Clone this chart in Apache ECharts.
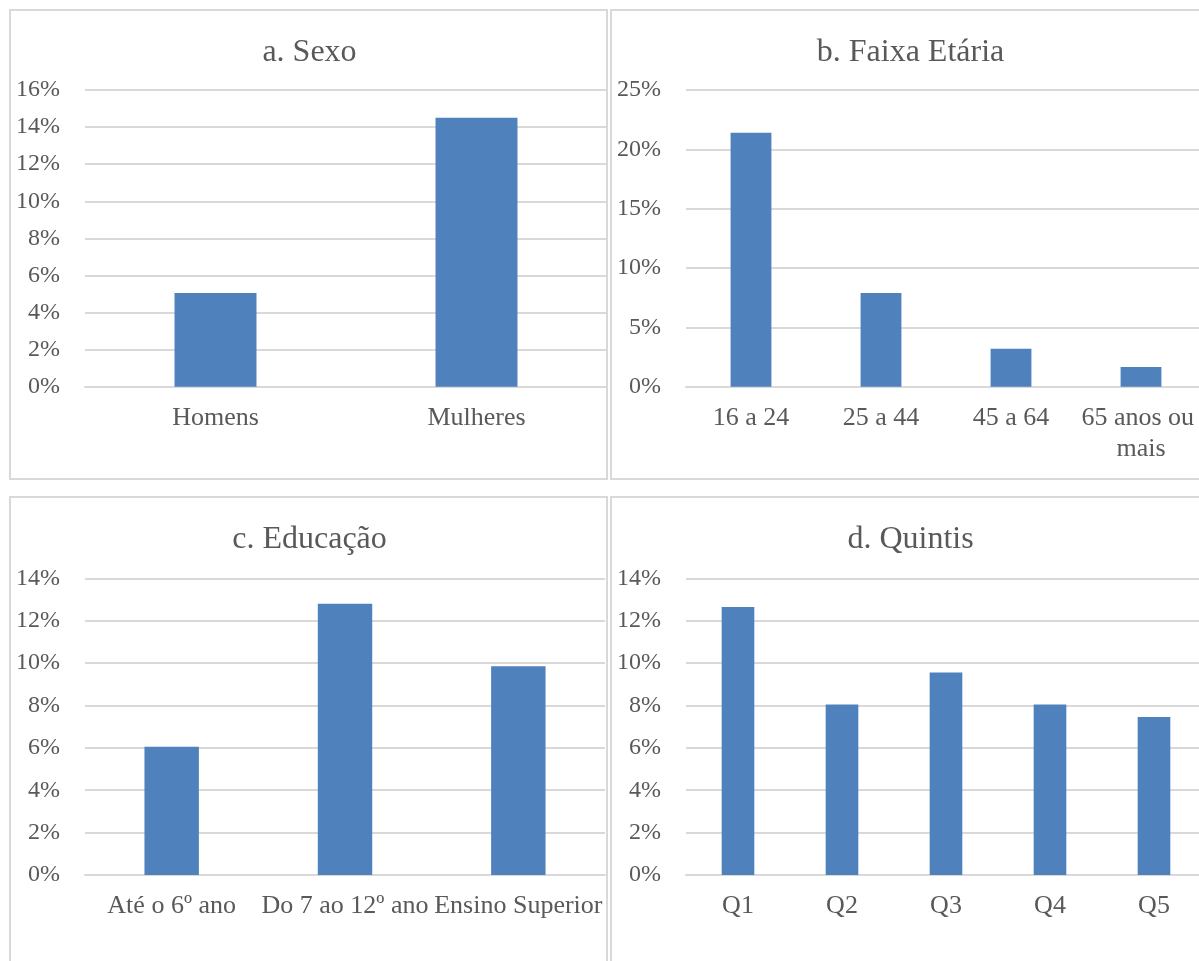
<!DOCTYPE html>
<html>
<head>
<meta charset="utf-8">
<script src="https://cdn.jsdelivr.net/npm/echarts@6/dist/echarts.min.js"></script>
<style>
html,body{margin:0;padding:0;background:#fff;}
#c{width:1199px;height:961px;}
</style>
</head>
<body>
<div id="c"></div>
<script>
// ---- data ----
const titles = ['a. Sexo', 'b. Faixa Etária', 'c. Educação', 'd. Quintis'];
const sexoCats = ['Homens', 'Mulheres'];
const sexoVals = [5.05, 14.5];
const faixaCats = ['16 a 24', '25 a 44', '45 a 64', '65 anos ou mais'];
const faixaVals = [21.4, 7.9, 3.2, 1.65];
const eduCats = ['Até o 6º ano', 'Do 7 ao 12º ano', 'Ensino Superior'];
const eduVals = [6.05, 12.8, 9.85];
const quintCats = ['Q1', 'Q2', 'Q3', 'Q4', 'Q5'];
const quintVals = [12.65, 8.05, 9.55, 8.05, 7.45];
const yMax = [16, 25, 14, 14];
const yStep = [2, 5, 2, 2];

// ---- layout ----
const FONT = "'Liberation Serif', 'Times New Roman', serif";
const TXT = '#595959';
const GRIDC = '#d9d9d9';
const BAR = '#4F81BD';
const panels = [
  {bx: 10, by: 10, gl: 85, gt: 90, tx: 304.5, ty: 32},
  {bx: 611, by: 10, gl: 686, gt: 90, tx: 905.5, ty: 32},
  {bx: 10, by: 497, gl: 85, gt: 578.3, tx: 304.5, ty: 519},
  {bx: 611, by: 497, gl: 686, gt: 578.3, tx: 905.5, ty: 519}
];
const cats = [sexoCats, faixaCats, eduCats, quintCats];
const vals = [sexoVals, faixaVals, eduVals, quintVals];

const option = {
  animation: false,
  backgroundColor: '#fff',
  title: panels.map((p, i) => ({
    text: titles[i],
    left: p.tx,
    top: p.ty,
    textAlign: 'center',
    textStyle: {fontFamily: FONT, fontSize: 32, fontWeight: 'normal', color: TXT}
  })),
  graphic: panels.map(p => ({
    type: 'rect',
    shape: {x: p.bx, y: p.by, width: 597, height: 469},
    style: {fill: 'none', stroke: GRIDC, lineWidth: 2},
    silent: true
  })),
  grid: panels.map((p, i) => ({
    left: p.gl, top: p.gt, width: i === 0 ? 522 : 520, height: 296.7,
    containLabel: false, outerBoundsMode: 'none'
  })),
  xAxis: panels.map((p, i) => ({
    type: 'category', gridIndex: i, data: cats[i],
    axisLine: {show: true, lineStyle: {color: GRIDC, width: 2}},
    axisTick: {show: false},
    axisLabel: Object.assign({
      interval: 0, color: TXT, fontFamily: FONT, fontSize: 26, margin: 16, lineHeight: 31
    }, i === 1 ? {width: 128, overflow: 'break'} : {})
  })),
  yAxis: panels.map((p, i) => ({
    type: 'value', gridIndex: i, min: 0, max: yMax[i], interval: yStep[i],
    axisLine: {show: false}, axisTick: {show: false},
    splitLine: {show: true, lineStyle: {color: GRIDC, width: 2}},
    axisLabel: {color: TXT, fontFamily: FONT, fontSize: 24, margin: 25, formatter: '{value}%'}
  })),
  series: panels.map((p, i) => ({
    type: 'bar', xAxisIndex: i, yAxisIndex: i, data: vals[i],
    barCategoryGap: '68.6%',
    itemStyle: {color: BAR},
    silent: true
  }))
};
const chart = echarts.init(document.getElementById('c'), null, {renderer: 'canvas'});
chart.setOption(option);
</script>
</body>
</html>
